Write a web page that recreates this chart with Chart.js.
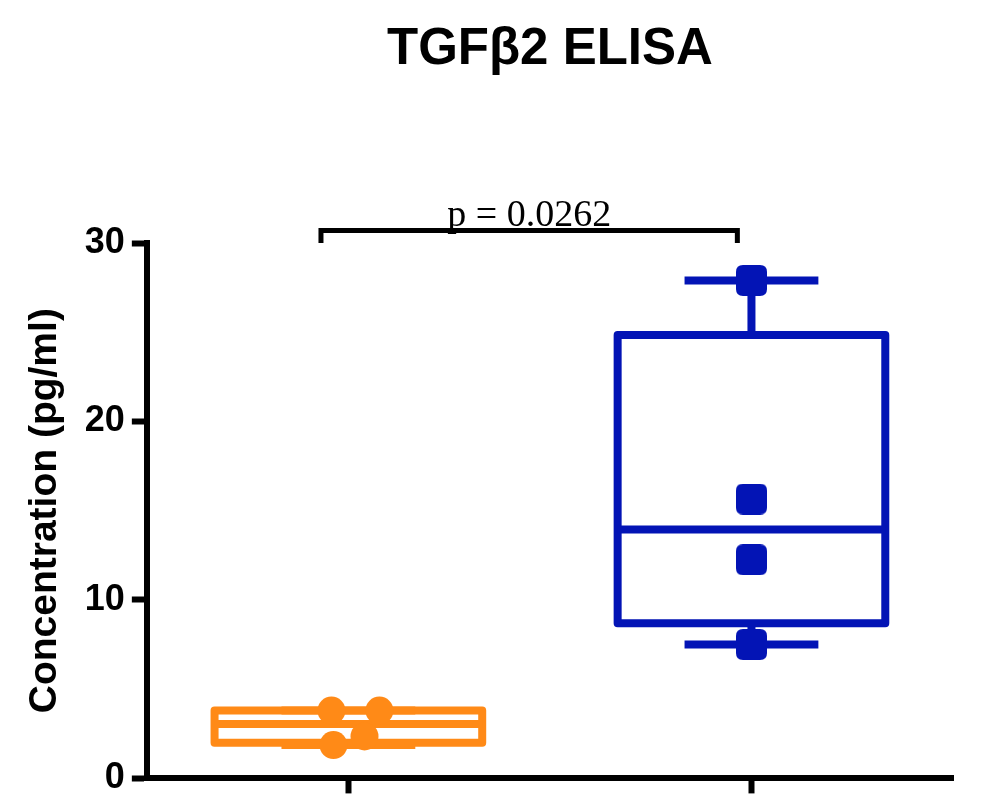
<!DOCTYPE html>
<html>
<head>
<meta charset="utf-8">
<script src="https://cdn.jsdelivr.net/npm/chart.js@4.4.1/dist/chart.umd.min.js"></script>
<style>
html,body{margin:0;padding:0;background:#fff;}
#wrap{width:1006px;height:807px;position:relative;}
</style>
</head>
<body>
<div id="wrap"><canvas id="c"></canvas></div>
<script>
// ---- data ----
const groups = ['Group 1', 'Group 2'];
const group1Values = [3.8, 3.8, 2.35, 1.87];
const group2Values = [27.9, 15.65, 12.25, 7.5];
const group1Jitter = [-0.042, 0.077, 0.040, -0.037];
const group2Jitter = [0, 0, 0, 0];
const whiskerMin = [1.87, 7.5];
const q1 = [2.0, 8.7];
const median = [3.05, 13.95];
const q3 = [3.8, 24.85];
const whiskerMax = [3.8, 27.9];
const yTicks = [0, 10, 20, 30];
const pValueText = 'p = 0.0262';
const titleText = 'TGFβ2 ELISA';
const yTitle = 'Concentration (pg/ml)';

// ---- styles ----
const colors = ['#FF8A17', '#0314B5'];
const BOX_HALF = 0.332;
const CAP_HALF = 0.166;
const BOX_LINE = 8;
const BRACKET = {from: -0.068, to: 0.965, low: 30.0, high: 30.7};

function roundSquare(size, r, color) {
  const c = document.createElement('canvas');
  c.width = size; c.height = size;
  const g = c.getContext('2d');
  g.fillStyle = color;
  g.beginPath();
  g.moveTo(r, 0); g.lineTo(size - r, 0); g.quadraticCurveTo(size, 0, size, r);
  g.lineTo(size, size - r); g.quadraticCurveTo(size, size, size - r, size);
  g.lineTo(r, size); g.quadraticCurveTo(0, size, 0, size - r);
  g.lineTo(0, r); g.quadraticCurveTo(0, 0, r, 0);
  g.closePath(); g.fill();
  return c;
}

const boxPlugin = {
  id: 'boxes',
  beforeDatasetsDraw(chart) {
    const {ctx, scales: {x, y}} = chart;
    ctx.save();
    ctx.lineWidth = BOX_LINE;
    ctx.lineJoin = 'round';
    ctx.lineCap = 'butt';
    groups.forEach((g, i) => {
      const cx = x.getPixelForValue(i);
      const bl = x.getPixelForValue(i - BOX_HALF), br = x.getPixelForValue(i + BOX_HALF);
      const cl = x.getPixelForValue(i - CAP_HALF), cr = x.getPixelForValue(i + CAP_HALF);
      const yMin = y.getPixelForValue(whiskerMin[i]), yMax = y.getPixelForValue(whiskerMax[i]);
      const yQ1 = y.getPixelForValue(q1[i]), yQ3 = y.getPixelForValue(q3[i]);
      const yMed = y.getPixelForValue(median[i]);
      ctx.strokeStyle = colors[i];
      ctx.beginPath();
      ctx.moveTo(cx, yQ3); ctx.lineTo(cx, yMax);
      ctx.moveTo(cx, yQ1); ctx.lineTo(cx, yMin);
      ctx.moveTo(cl, yMax); ctx.lineTo(cr, yMax);
      ctx.moveTo(cl, yMin); ctx.lineTo(cr, yMin);
      ctx.stroke();
      ctx.beginPath();
      ctx.rect(bl, yQ3, br - bl, yQ1 - yQ3);
      ctx.stroke();
      ctx.beginPath();
      ctx.moveTo(bl, yMed); ctx.lineTo(br, yMed);
      ctx.stroke();
    });
    ctx.restore();
  },
  afterDraw(chart) {
    const {ctx, scales: {x, y}} = chart;
    const x1 = x.getPixelForValue(BRACKET.from), x2 = x.getPixelForValue(BRACKET.to);
    const yl = y.getPixelForValue(BRACKET.low), yh = y.getPixelForValue(BRACKET.high);
    ctx.save();
    ctx.strokeStyle = '#000';
    ctx.lineWidth = 5;
    ctx.lineJoin = 'miter';
    ctx.beginPath();
    ctx.moveTo(x1, yl); ctx.lineTo(x1, yh); ctx.lineTo(x2, yh); ctx.lineTo(x2, yl);
    ctx.stroke();
    ctx.fillStyle = '#000';
    ctx.font = '38px "Liberation Serif", "Times New Roman", serif';
    ctx.textAlign = 'center';
    ctx.textBaseline = 'alphabetic';
    ctx.fillText(pValueText, (x1 + x2) / 2, yh - 5);
    ctx.restore();
  }
};

const ctx = document.getElementById('c').getContext('2d');
new Chart(ctx, {
  type: 'scatter',
  data: {
    datasets: [
      {
        label: groups[0],
        data: group1Values.map((v, k) => ({x: 0 + group1Jitter[k], y: v})),
        backgroundColor: colors[0],
        borderWidth: 0,
        pointRadius: 14,
        pointStyle: 'circle'
      },
      {
        label: groups[1],
        data: group2Values.map((v, k) => ({x: 1 + group2Jitter[k], y: v})),
        backgroundColor: colors[1],
        borderWidth: 0,
        pointRadius: 16,
        pointStyle: roundSquare(31, 7, colors[1])
      }
    ]
  },
  options: {
    responsive: true,
    maintainAspectRatio: false,
    animation: false,
    devicePixelRatio: 1,
    layout: {padding: {left: 0, right: 53, top: 0, bottom: 11.5}},
    plugins: {
      legend: {display: false},
      tooltip: {enabled: false},
      title: {
        display: true,
        fullSize: false,
        text: titleText,
        color: '#000',
        font: {family: '"Liberation Sans", Arial, sans-serif', size: 51, weight: 'bold'},
        padding: {top: 19.4, bottom: 162.4}
      }
    },
    scales: {
      x: {
        type: 'linear',
        min: -0.5,
        max: 1.5,
        afterBuildTicks: (axis) => { axis.ticks = groups.map((g, i) => ({value: i})); },
        ticks: {display: false},
        grid: {drawOnChartArea: false, drawTicks: true, tickLength: 15, tickWidth: 6, tickColor: '#000'},
        border: {display: true, color: '#000', width: 6}
      },
      y: {
        min: 0,
        max: 30,
        afterBuildTicks: (axis) => { axis.ticks = yTicks.map(v => ({value: v})); },
        ticks: {
          color: '#000',
          padding: 7,
          font: {family: '"Liberation Sans", Arial, sans-serif', size: 36, weight: 'bold'}
        },
        grid: {drawOnChartArea: false, drawTicks: true, tickLength: 15, tickWidth: 6, tickColor: '#000'},
        border: {display: true, color: '#000', width: 6},
        title: {
          display: true,
          text: yTitle,
          color: '#000',
          padding: {top: 22, bottom: 9},
          font: {family: '"Liberation Sans", Arial, sans-serif', size: 39, weight: 'bold'}
        }
      }
    }
  },
  plugins: [boxPlugin]
});
</script>
</body>
</html>
